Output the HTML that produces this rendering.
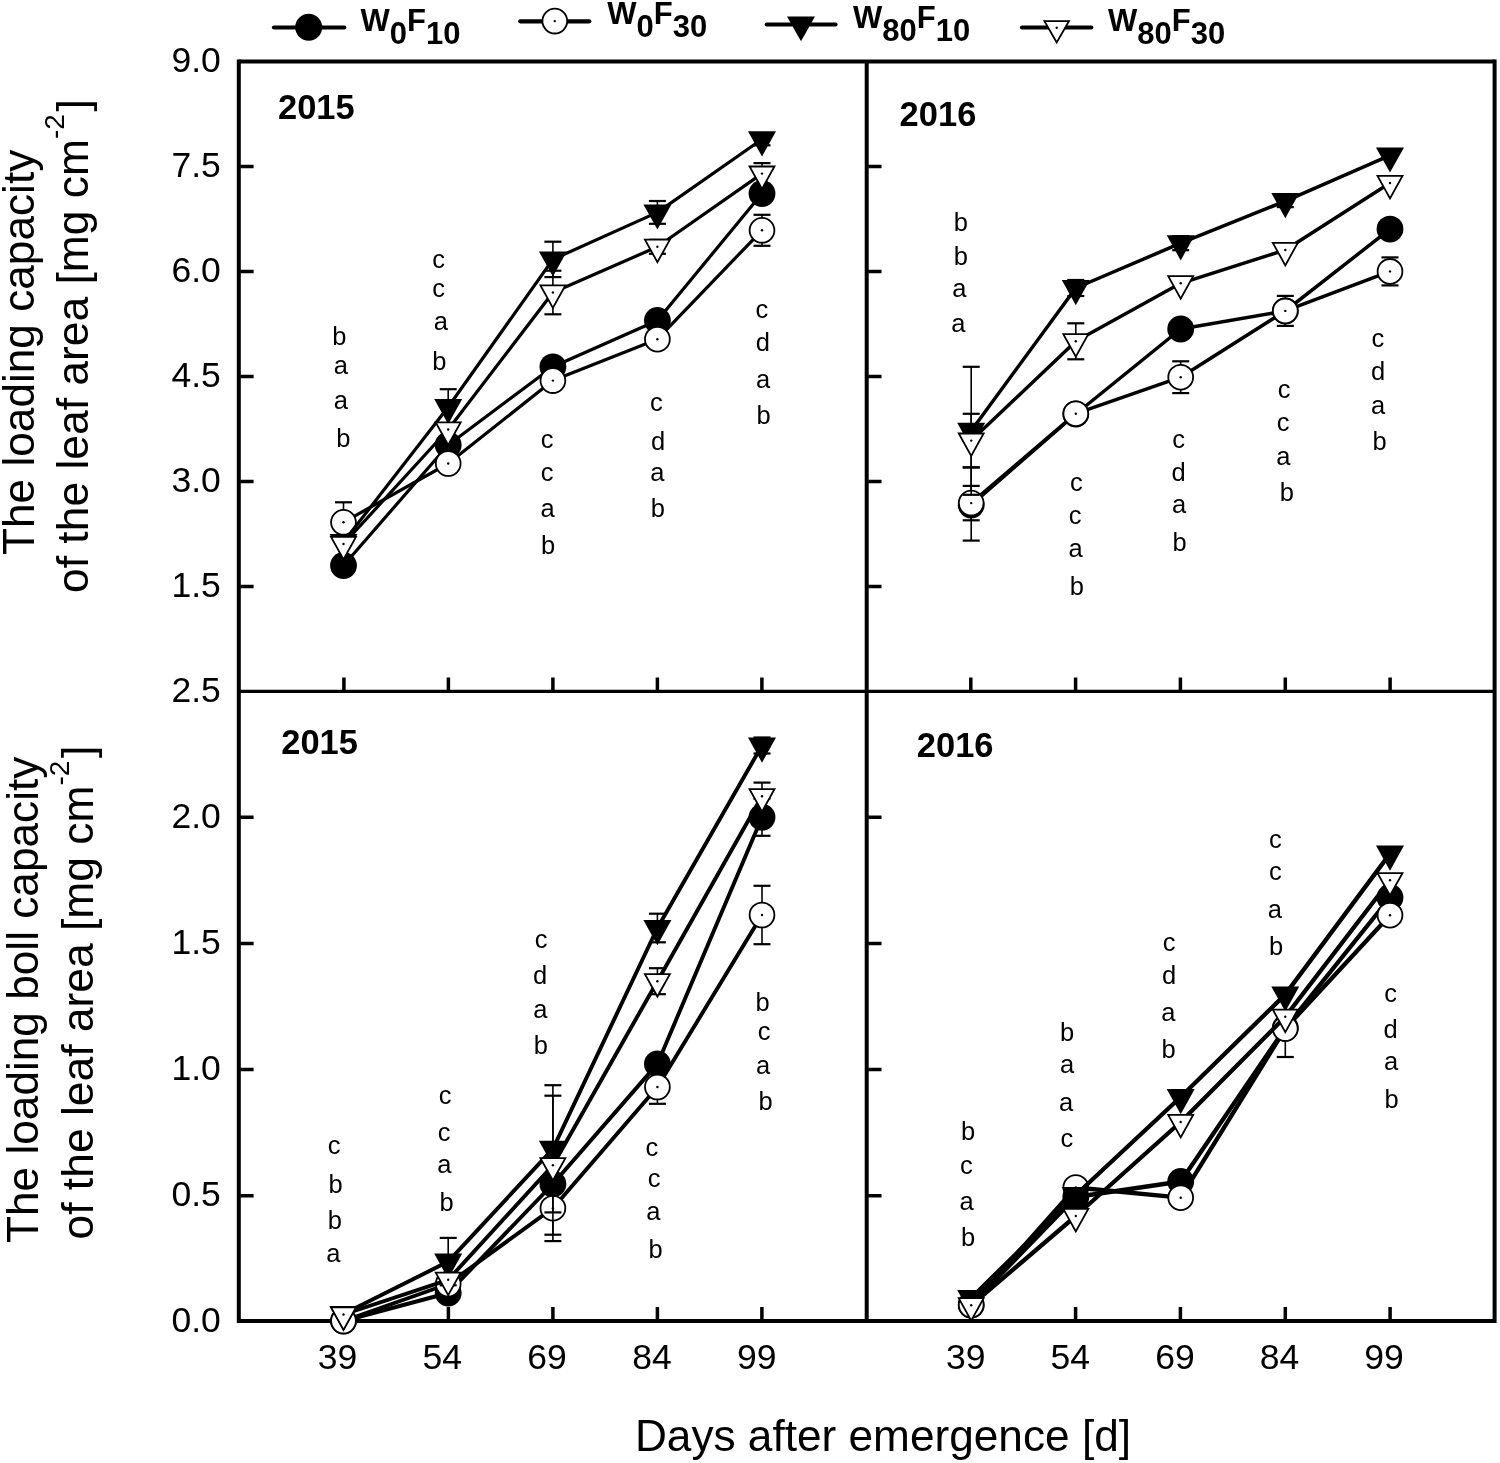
<!DOCTYPE html>
<html><head><meta charset="utf-8"><title>Loading capacity chart</title>
<style>html,body{margin:0;padding:0;background:#fff;}svg{display:block;will-change:transform;}text{font-family:"Liberation Sans",sans-serif;fill:#000;}</style></head><body>
<svg width="1500" height="1463" viewBox="0 0 1500 1463">
<rect x="0" y="0" width="1500" height="1463" fill="#fff"/>
<path d="M238.8,59.4V1322.9M866.7,61.4V1320.9M1494.6,59.4V1322.9" stroke="#000" stroke-width="4.0" fill="none"/>
<path d="M238.8,61.4H1494.6M238.8,1320.9H1494.6" stroke="#000" stroke-width="4.0" fill="none"/>
<path d="M238.8,691.3H1494.6" stroke="#000" stroke-width="3.3" fill="none"/>
<path d="M240.3,166.5h13.3M868.2,166.5h13.3M240.3,271.5h13.3M868.2,271.5h13.3M240.3,376.5h13.3M868.2,376.5h13.3M240.3,481.6h13.3M868.2,481.6h13.3M240.3,586.6h13.3M868.2,586.6h13.3M240.3,1195.7h13.3M868.2,1195.7h13.3M240.3,1069.6h13.3M868.2,1069.6h13.3M240.3,943.4h13.3M868.2,943.4h13.3M240.3,817.2h13.3M868.2,817.2h13.3M343.9,690.1v-12.5M343.9,1319.4v-12.5M448.4,690.1v-12.5M448.4,1319.4v-12.5M552.9,690.1v-12.5M552.9,1319.4v-12.5M657.4,690.1v-12.5M657.4,1319.4v-12.5M761.9,690.1v-12.5M761.9,1319.4v-12.5M970.8,690.1v-12.5M970.8,1319.4v-12.5M1075.6,690.1v-12.5M1075.6,1319.4v-12.5M1180.4,690.1v-12.5M1180.4,1319.4v-12.5M1285.3,690.1v-12.5M1285.3,1319.4v-12.5M1390.1,690.1v-12.5M1390.1,1319.4v-12.5" stroke="#000" stroke-width="3.5" fill="none"/>
<polyline fill="none" stroke="#000" stroke-width="3.2" stroke-linejoin="round" points="343.5,565.5 448.2,445.0 552.9,366.8 657.4,320.5 762.0,193.5"/><circle cx="343.5" cy="565.5" r="13.4" fill="#000"/><circle cx="448.2" cy="445.0" r="13.4" fill="#000"/><circle cx="552.9" cy="366.8" r="13.4" fill="#000"/><circle cx="657.4" cy="320.5" r="13.4" fill="#000"/><circle cx="762.0" cy="193.5" r="13.4" fill="#000"/>
<polyline fill="none" stroke="#000" stroke-width="3.2" stroke-linejoin="round" points="343.5,522.3 448.2,463.5 552.9,380.6 657.4,339.2 762.0,230.3"/><path d="M343.5,502.3V542.3" stroke="#000" stroke-width="1.6" fill="none"/><rect x="335.0" y="501.2" width="17.0" height="2.2" fill="#000"/><rect x="335.0" y="541.2" width="17.0" height="2.2" fill="#000"/><path d="M762.0,214.8V245.8" stroke="#000" stroke-width="1.6" fill="none"/><rect x="753.5" y="213.7" width="17.0" height="2.2" fill="#000"/><rect x="753.5" y="244.7" width="17.0" height="2.2" fill="#000"/><circle cx="343.5" cy="522.3" r="12.4" fill="#fff" stroke="#000" stroke-width="1.8"/><circle cx="343.5" cy="522.3" r="1.2" fill="#000"/><circle cx="448.2" cy="463.5" r="12.4" fill="#fff" stroke="#000" stroke-width="1.8"/><circle cx="448.2" cy="463.5" r="1.2" fill="#000"/><circle cx="552.9" cy="380.6" r="12.4" fill="#fff" stroke="#000" stroke-width="1.8"/><circle cx="552.9" cy="380.6" r="1.2" fill="#000"/><circle cx="657.4" cy="339.2" r="12.4" fill="#fff" stroke="#000" stroke-width="1.8"/><circle cx="657.4" cy="339.2" r="1.2" fill="#000"/><circle cx="762.0" cy="230.3" r="12.4" fill="#fff" stroke="#000" stroke-width="1.8"/><circle cx="762.0" cy="230.3" r="1.2" fill="#000"/>
<polyline fill="none" stroke="#000" stroke-width="3.2" stroke-linejoin="round" points="343.5,542.0 448.2,407.0 552.9,259.4 657.4,212.4 762.0,139.3"/><path d="M448.2,389.2V424.8" stroke="#000" stroke-width="1.6" fill="none"/><rect x="439.7" y="388.1" width="17.0" height="2.2" fill="#000"/><rect x="439.7" y="423.7" width="17.0" height="2.2" fill="#000"/><path d="M552.9,241.7V277.1" stroke="#000" stroke-width="1.6" fill="none"/><rect x="544.4" y="240.6" width="17.0" height="2.2" fill="#000"/><rect x="544.4" y="276.0" width="17.0" height="2.2" fill="#000"/><path d="M657.4,201.0V223.8" stroke="#000" stroke-width="1.6" fill="none"/><rect x="648.9" y="199.9" width="17.0" height="2.2" fill="#000"/><rect x="648.9" y="222.7" width="17.0" height="2.2" fill="#000"/><path d="M762.0,133.3V145.3" stroke="#000" stroke-width="1.6" fill="none"/><rect x="753.5" y="132.2" width="17.0" height="2.2" fill="#000"/><rect x="753.5" y="144.2" width="17.0" height="2.2" fill="#000"/><path d="M329.5,534.0L357.5,534.0L343.5,559.2Z" fill="#000"/><path d="M434.2,399.0L462.2,399.0L448.2,424.2Z" fill="#000"/><path d="M538.9,251.4L566.9,251.4L552.9,276.6Z" fill="#000"/><path d="M643.4,204.4L671.4,204.4L657.4,229.6Z" fill="#000"/><path d="M748.0,131.3L776.0,131.3L762.0,156.5Z" fill="#000"/>
<polyline fill="none" stroke="#000" stroke-width="3.2" stroke-linejoin="round" points="343.5,544.0 448.2,429.5 552.9,292.5 657.4,246.8 762.0,173.6"/><path d="M552.9,270.7V314.3" stroke="#000" stroke-width="1.6" fill="none"/><rect x="544.4" y="269.6" width="17.0" height="2.2" fill="#000"/><rect x="544.4" y="313.2" width="17.0" height="2.2" fill="#000"/><path d="M657.4,239.8V253.8" stroke="#000" stroke-width="1.6" fill="none"/><rect x="648.9" y="238.7" width="17.0" height="2.2" fill="#000"/><rect x="648.9" y="252.7" width="17.0" height="2.2" fill="#000"/><path d="M762.0,163.1V184.1" stroke="#000" stroke-width="1.6" fill="none"/><rect x="753.5" y="162.0" width="17.0" height="2.2" fill="#000"/><rect x="753.5" y="183.0" width="17.0" height="2.2" fill="#000"/><path d="M331.03,536.90L355.97,536.90L343.50,559.35Z" fill="#fff" stroke="#000" stroke-width="1.8" stroke-linejoin="miter" stroke-miterlimit="10"/><circle cx="343.5" cy="544.0" r="1.2" fill="#000"/><path d="M435.73,422.40L460.67,422.40L448.20,444.85Z" fill="#fff" stroke="#000" stroke-width="1.8" stroke-linejoin="miter" stroke-miterlimit="10"/><circle cx="448.2" cy="429.5" r="1.2" fill="#000"/><path d="M540.43,285.40L565.37,285.40L552.90,307.85Z" fill="#fff" stroke="#000" stroke-width="1.8" stroke-linejoin="miter" stroke-miterlimit="10"/><circle cx="552.9" cy="292.5" r="1.2" fill="#000"/><path d="M644.93,239.70L669.87,239.70L657.40,262.15Z" fill="#fff" stroke="#000" stroke-width="1.8" stroke-linejoin="miter" stroke-miterlimit="10"/><circle cx="657.4" cy="246.8" r="1.2" fill="#000"/><path d="M749.53,166.50L774.47,166.50L762.00,188.95Z" fill="#fff" stroke="#000" stroke-width="1.8" stroke-linejoin="miter" stroke-miterlimit="10"/><circle cx="762.0" cy="173.6" r="1.2" fill="#000"/>
<polyline fill="none" stroke="#000" stroke-width="3.5" stroke-linejoin="round" points="971.2,505.0 1075.8,414.0 1180.7,329.0 1285.3,311.0 1390.0,229.1"/><path d="M971.2,467.4V540.6" stroke="#000" stroke-width="1.6" fill="none"/><rect x="962.7" y="466.3" width="17.0" height="2.2" fill="#000"/><rect x="962.7" y="539.5" width="17.0" height="2.2" fill="#000"/><circle cx="971.2" cy="505.0" r="13.4" fill="#000"/><circle cx="1075.8" cy="414.0" r="13.4" fill="#000"/><circle cx="1180.7" cy="329.0" r="13.4" fill="#000"/><circle cx="1285.3" cy="311.0" r="13.4" fill="#000"/><circle cx="1390.0" cy="229.1" r="13.4" fill="#000"/>
<polyline fill="none" stroke="#000" stroke-width="3.5" stroke-linejoin="round" points="971.2,503.1 1075.8,413.7 1180.7,377.2 1285.3,310.9 1390.0,271.4"/><path d="M971.2,485.9V520.3" stroke="#000" stroke-width="1.6" fill="none"/><rect x="962.7" y="484.8" width="17.0" height="2.2" fill="#000"/><rect x="962.7" y="519.2" width="17.0" height="2.2" fill="#000"/><path d="M1180.7,361.3V393.1" stroke="#000" stroke-width="1.6" fill="none"/><rect x="1172.2" y="360.2" width="17.0" height="2.2" fill="#000"/><rect x="1172.2" y="392.0" width="17.0" height="2.2" fill="#000"/><path d="M1285.3,295.9V325.9" stroke="#000" stroke-width="1.6" fill="none"/><rect x="1276.8" y="294.8" width="17.0" height="2.2" fill="#000"/><rect x="1276.8" y="324.8" width="17.0" height="2.2" fill="#000"/><path d="M1390.0,257.4V285.4" stroke="#000" stroke-width="1.6" fill="none"/><rect x="1381.5" y="256.3" width="17.0" height="2.2" fill="#000"/><rect x="1381.5" y="284.3" width="17.0" height="2.2" fill="#000"/><circle cx="971.2" cy="503.1" r="12.4" fill="#fff" stroke="#000" stroke-width="1.8"/><circle cx="971.2" cy="503.1" r="1.2" fill="#000"/><circle cx="1075.8" cy="413.7" r="12.4" fill="#fff" stroke="#000" stroke-width="1.8"/><circle cx="1075.8" cy="413.7" r="1.2" fill="#000"/><circle cx="1180.7" cy="377.2" r="12.4" fill="#fff" stroke="#000" stroke-width="1.8"/><circle cx="1180.7" cy="377.2" r="1.2" fill="#000"/><circle cx="1285.3" cy="310.9" r="12.4" fill="#fff" stroke="#000" stroke-width="1.8"/><circle cx="1285.3" cy="310.9" r="1.2" fill="#000"/><circle cx="1390.0" cy="271.4" r="12.4" fill="#fff" stroke="#000" stroke-width="1.8"/><circle cx="1390.0" cy="271.4" r="1.2" fill="#000"/>
<polyline fill="none" stroke="#000" stroke-width="3.5" stroke-linejoin="round" points="971.2,430.8 1075.8,288.0 1180.7,243.2 1285.3,201.1 1390.0,155.4"/><path d="M971.2,366.8V494.8" stroke="#000" stroke-width="1.6" fill="none"/><rect x="962.7" y="365.7" width="17.0" height="2.2" fill="#000"/><rect x="962.7" y="493.7" width="17.0" height="2.2" fill="#000"/><path d="M1075.8,280.0V296.0" stroke="#000" stroke-width="1.6" fill="none"/><rect x="1067.3" y="278.9" width="17.0" height="2.2" fill="#000"/><rect x="1067.3" y="294.9" width="17.0" height="2.2" fill="#000"/><path d="M1180.7,236.2V250.2" stroke="#000" stroke-width="1.6" fill="none"/><rect x="1172.2" y="235.1" width="17.0" height="2.2" fill="#000"/><rect x="1172.2" y="249.1" width="17.0" height="2.2" fill="#000"/><path d="M1285.3,195.1V207.1" stroke="#000" stroke-width="1.6" fill="none"/><rect x="1276.8" y="194.0" width="17.0" height="2.2" fill="#000"/><rect x="1276.8" y="206.0" width="17.0" height="2.2" fill="#000"/><path d="M957.2,422.8L985.2,422.8L971.2,448.0Z" fill="#000"/><path d="M1061.8,280.0L1089.8,280.0L1075.8,305.2Z" fill="#000"/><path d="M1166.7,235.2L1194.7,235.2L1180.7,260.4Z" fill="#000"/><path d="M1271.3,193.1L1299.3,193.1L1285.3,218.3Z" fill="#000"/><path d="M1376.0,147.4L1404.0,147.4L1390.0,172.6Z" fill="#000"/>
<polyline fill="none" stroke="#000" stroke-width="3.5" stroke-linejoin="round" points="971.2,440.6 1075.8,341.3 1180.7,283.3 1285.3,250.0 1390.0,183.0"/><path d="M971.2,413.8V467.4" stroke="#000" stroke-width="1.6" fill="none"/><rect x="962.7" y="412.7" width="17.0" height="2.2" fill="#000"/><rect x="962.7" y="466.3" width="17.0" height="2.2" fill="#000"/><path d="M1075.8,323.3V359.3" stroke="#000" stroke-width="1.6" fill="none"/><rect x="1067.3" y="322.2" width="17.0" height="2.2" fill="#000"/><rect x="1067.3" y="358.2" width="17.0" height="2.2" fill="#000"/><path d="M958.73,433.50L983.67,433.50L971.20,455.95Z" fill="#fff" stroke="#000" stroke-width="1.8" stroke-linejoin="miter" stroke-miterlimit="10"/><circle cx="971.2" cy="440.6" r="1.2" fill="#000"/><path d="M1063.33,334.20L1088.27,334.20L1075.80,356.65Z" fill="#fff" stroke="#000" stroke-width="1.8" stroke-linejoin="miter" stroke-miterlimit="10"/><circle cx="1075.8" cy="341.3" r="1.2" fill="#000"/><path d="M1168.23,276.20L1193.17,276.20L1180.70,298.65Z" fill="#fff" stroke="#000" stroke-width="1.8" stroke-linejoin="miter" stroke-miterlimit="10"/><circle cx="1180.7" cy="283.3" r="1.2" fill="#000"/><path d="M1272.83,242.90L1297.77,242.90L1285.30,265.35Z" fill="#fff" stroke="#000" stroke-width="1.8" stroke-linejoin="miter" stroke-miterlimit="10"/><circle cx="1285.3" cy="250.0" r="1.2" fill="#000"/><path d="M1377.53,175.90L1402.47,175.90L1390.00,198.35Z" fill="#fff" stroke="#000" stroke-width="1.8" stroke-linejoin="miter" stroke-miterlimit="10"/><circle cx="1390.0" cy="183.0" r="1.2" fill="#000"/>
<polyline fill="none" stroke="#000" stroke-width="3.9" stroke-linejoin="round" points="343.5,1321.0 448.2,1293.0 552.9,1184.0 657.4,1063.9 762.0,817.2"/><path d="M762.0,798.6V835.8" stroke="#000" stroke-width="1.6" fill="none"/><rect x="753.5" y="797.5" width="17.0" height="2.2" fill="#000"/><rect x="753.5" y="834.7" width="17.0" height="2.2" fill="#000"/><circle cx="343.5" cy="1321.0" r="13.4" fill="#000"/><circle cx="448.2" cy="1293.0" r="13.4" fill="#000"/><circle cx="552.9" cy="1184.0" r="13.4" fill="#000"/><circle cx="657.4" cy="1063.9" r="13.4" fill="#000"/><circle cx="762.0" cy="817.2" r="13.4" fill="#000"/>
<polyline fill="none" stroke="#000" stroke-width="3.9" stroke-linejoin="round" points="343.5,1321.0 448.2,1284.0 552.9,1208.2 657.4,1087.0 762.0,915.0"/><path d="M552.9,1175.3V1241.1" stroke="#000" stroke-width="1.6" fill="none"/><rect x="544.4" y="1174.2" width="17.0" height="2.2" fill="#000"/><rect x="544.4" y="1240.0" width="17.0" height="2.2" fill="#000"/><path d="M657.4,1070.2V1103.8" stroke="#000" stroke-width="1.6" fill="none"/><rect x="648.9" y="1069.1" width="17.0" height="2.2" fill="#000"/><rect x="648.9" y="1102.7" width="17.0" height="2.2" fill="#000"/><path d="M762.0,885.8V944.2" stroke="#000" stroke-width="1.6" fill="none"/><rect x="753.5" y="884.7" width="17.0" height="2.2" fill="#000"/><rect x="753.5" y="943.1" width="17.0" height="2.2" fill="#000"/><circle cx="343.5" cy="1321.0" r="12.4" fill="#fff" stroke="#000" stroke-width="1.8"/><circle cx="343.5" cy="1321.0" r="1.2" fill="#000"/><circle cx="448.2" cy="1284.0" r="12.4" fill="#fff" stroke="#000" stroke-width="1.8"/><circle cx="448.2" cy="1284.0" r="1.2" fill="#000"/><circle cx="552.9" cy="1208.2" r="12.4" fill="#fff" stroke="#000" stroke-width="1.8"/><circle cx="552.9" cy="1208.2" r="1.2" fill="#000"/><circle cx="657.4" cy="1087.0" r="12.4" fill="#fff" stroke="#000" stroke-width="1.8"/><circle cx="657.4" cy="1087.0" r="1.2" fill="#000"/><circle cx="762.0" cy="915.0" r="12.4" fill="#fff" stroke="#000" stroke-width="1.8"/><circle cx="762.0" cy="915.0" r="1.2" fill="#000"/>
<polyline fill="none" stroke="#000" stroke-width="3.9" stroke-linejoin="round" points="343.5,1314.0 448.2,1261.6 552.9,1148.8 657.4,928.0 762.0,745.5"/><path d="M448.2,1237.9V1285.3" stroke="#000" stroke-width="1.6" fill="none"/><rect x="439.7" y="1236.8" width="17.0" height="2.2" fill="#000"/><rect x="439.7" y="1284.2" width="17.0" height="2.2" fill="#000"/><path d="M552.9,1085.2V1212.4" stroke="#000" stroke-width="1.6" fill="none"/><rect x="544.4" y="1084.1" width="17.0" height="2.2" fill="#000"/><rect x="544.4" y="1211.3" width="17.0" height="2.2" fill="#000"/><path d="M657.4,913.7V942.3" stroke="#000" stroke-width="1.6" fill="none"/><rect x="648.9" y="912.6" width="17.0" height="2.2" fill="#000"/><rect x="648.9" y="941.2" width="17.0" height="2.2" fill="#000"/><path d="M762.0,737.5V753.5" stroke="#000" stroke-width="1.6" fill="none"/><rect x="753.5" y="736.4" width="17.0" height="2.2" fill="#000"/><rect x="753.5" y="752.4" width="17.0" height="2.2" fill="#000"/><path d="M329.5,1306.0L357.5,1306.0L343.5,1331.2Z" fill="#000"/><path d="M434.2,1253.6L462.2,1253.6L448.2,1278.8Z" fill="#000"/><path d="M538.9,1140.8L566.9,1140.8L552.9,1166.0Z" fill="#000"/><path d="M643.4,920.0L671.4,920.0L657.4,945.2Z" fill="#000"/><path d="M748.0,737.5L776.0,737.5L762.0,762.7Z" fill="#000"/>
<polyline fill="none" stroke="#000" stroke-width="3.9" stroke-linejoin="round" points="343.5,1314.5 448.2,1279.8 552.9,1165.2 657.4,981.2 762.0,796.3"/><path d="M552.9,1095.7V1234.7" stroke="#000" stroke-width="1.6" fill="none"/><rect x="544.4" y="1094.6" width="17.0" height="2.2" fill="#000"/><rect x="544.4" y="1233.6" width="17.0" height="2.2" fill="#000"/><path d="M657.4,968.2V994.2" stroke="#000" stroke-width="1.6" fill="none"/><rect x="648.9" y="967.1" width="17.0" height="2.2" fill="#000"/><rect x="648.9" y="993.1" width="17.0" height="2.2" fill="#000"/><path d="M762.0,782.6V810.0" stroke="#000" stroke-width="1.6" fill="none"/><rect x="753.5" y="781.5" width="17.0" height="2.2" fill="#000"/><rect x="753.5" y="808.9" width="17.0" height="2.2" fill="#000"/><path d="M331.03,1307.40L355.97,1307.40L343.50,1329.85Z" fill="#fff" stroke="#000" stroke-width="1.8" stroke-linejoin="miter" stroke-miterlimit="10"/><circle cx="343.5" cy="1314.5" r="1.2" fill="#000"/><path d="M435.73,1272.70L460.67,1272.70L448.20,1295.15Z" fill="#fff" stroke="#000" stroke-width="1.8" stroke-linejoin="miter" stroke-miterlimit="10"/><circle cx="448.2" cy="1279.8" r="1.2" fill="#000"/><path d="M540.43,1158.10L565.37,1158.10L552.90,1180.55Z" fill="#fff" stroke="#000" stroke-width="1.8" stroke-linejoin="miter" stroke-miterlimit="10"/><circle cx="552.9" cy="1165.2" r="1.2" fill="#000"/><path d="M644.93,974.10L669.87,974.10L657.40,996.55Z" fill="#fff" stroke="#000" stroke-width="1.8" stroke-linejoin="miter" stroke-miterlimit="10"/><circle cx="657.4" cy="981.2" r="1.2" fill="#000"/><path d="M749.53,789.20L774.47,789.20L762.00,811.65Z" fill="#fff" stroke="#000" stroke-width="1.8" stroke-linejoin="miter" stroke-miterlimit="10"/><circle cx="762.0" cy="796.3" r="1.2" fill="#000"/>
<polyline fill="none" stroke="#000" stroke-width="4.3" stroke-linejoin="round" points="971.2,1305.0 1075.8,1197.0 1180.7,1181.5 1285.3,1028.0 1390.0,897.5"/><circle cx="971.2" cy="1305.0" r="13.4" fill="#000"/><circle cx="1075.8" cy="1197.0" r="13.4" fill="#000"/><circle cx="1180.7" cy="1181.5" r="13.4" fill="#000"/><circle cx="1285.3" cy="1028.0" r="13.4" fill="#000"/><circle cx="1390.0" cy="897.5" r="13.4" fill="#000"/>
<polyline fill="none" stroke="#000" stroke-width="4.3" stroke-linejoin="round" points="971.2,1305.0 1075.8,1187.5 1180.7,1197.7 1285.3,1028.6 1390.0,915.2"/><path d="M1285.3,1028.6V1057.0" stroke="#000" stroke-width="1.6" fill="none"/><rect x="1276.8" y="1055.9" width="17.0" height="2.2" fill="#000"/><circle cx="971.2" cy="1305.0" r="12.4" fill="#fff" stroke="#000" stroke-width="1.8"/><circle cx="971.2" cy="1305.0" r="1.2" fill="#000"/><circle cx="1075.8" cy="1187.5" r="12.4" fill="#fff" stroke="#000" stroke-width="1.8"/><circle cx="1075.8" cy="1187.5" r="1.2" fill="#000"/><circle cx="1180.7" cy="1197.7" r="12.4" fill="#fff" stroke="#000" stroke-width="1.8"/><circle cx="1180.7" cy="1197.7" r="1.2" fill="#000"/><circle cx="1285.3" cy="1028.6" r="12.4" fill="#fff" stroke="#000" stroke-width="1.8"/><circle cx="1285.3" cy="1028.6" r="1.2" fill="#000"/><circle cx="1390.0" cy="915.2" r="12.4" fill="#fff" stroke="#000" stroke-width="1.8"/><circle cx="1390.0" cy="915.2" r="1.2" fill="#000"/>
<polyline fill="none" stroke="#000" stroke-width="4.3" stroke-linejoin="round" points="971.2,1298.0 1075.8,1195.0 1180.7,1097.0 1285.3,994.4 1390.0,853.6"/><path d="M957.2,1290.0L985.2,1290.0L971.2,1315.2Z" fill="#000"/><path d="M1061.8,1187.0L1089.8,1187.0L1075.8,1212.2Z" fill="#000"/><path d="M1166.7,1089.0L1194.7,1089.0L1180.7,1114.2Z" fill="#000"/><path d="M1271.3,986.4L1299.3,986.4L1285.3,1011.6Z" fill="#000"/><path d="M1376.0,845.6L1404.0,845.6L1390.0,870.8Z" fill="#000"/>
<polyline fill="none" stroke="#000" stroke-width="4.3" stroke-linejoin="round" points="971.2,1305.3 1075.8,1216.0 1180.7,1122.0 1285.3,1016.8 1390.0,880.2"/><path d="M958.73,1298.20L983.67,1298.20L971.20,1320.65Z" fill="#fff" stroke="#000" stroke-width="1.8" stroke-linejoin="miter" stroke-miterlimit="10"/><circle cx="971.2" cy="1305.3" r="1.2" fill="#000"/><path d="M1063.33,1208.90L1088.27,1208.90L1075.80,1231.35Z" fill="#fff" stroke="#000" stroke-width="1.8" stroke-linejoin="miter" stroke-miterlimit="10"/><circle cx="1075.8" cy="1216.0" r="1.2" fill="#000"/><path d="M1168.23,1114.90L1193.17,1114.90L1180.70,1137.35Z" fill="#fff" stroke="#000" stroke-width="1.8" stroke-linejoin="miter" stroke-miterlimit="10"/><circle cx="1180.7" cy="1122.0" r="1.2" fill="#000"/><path d="M1272.83,1009.70L1297.77,1009.70L1285.30,1032.15Z" fill="#fff" stroke="#000" stroke-width="1.8" stroke-linejoin="miter" stroke-miterlimit="10"/><circle cx="1285.3" cy="1016.8" r="1.2" fill="#000"/><path d="M1377.53,873.10L1402.47,873.10L1390.00,895.55Z" fill="#fff" stroke="#000" stroke-width="1.8" stroke-linejoin="miter" stroke-miterlimit="10"/><circle cx="1390.0" cy="880.2" r="1.2" fill="#000"/>
<g font-size="25.5" text-anchor="middle">
<text x="339.3" y="345.4">b</text>
<text x="340.8" y="374.4">a</text>
<text x="340.8" y="408.6">a</text>
<text x="343.3" y="446.9">b</text>
<text x="438.7" y="267.5">c</text>
<text x="438.7" y="297.0">c</text>
<text x="440.9" y="330.0">a</text>
<text x="439.3" y="370.0">b</text>
<text x="547.1" y="447.5">c</text>
<text x="547.1" y="480.5">c</text>
<text x="547.5" y="516.8">a</text>
<text x="548.0" y="554.0">b</text>
<text x="656.3" y="411.0">c</text>
<text x="658.0" y="450.0">d</text>
<text x="657.4" y="480.5">a</text>
<text x="657.8" y="517.0">b</text>
<text x="761.8" y="317.5">c</text>
<text x="762.8" y="350.5">d</text>
<text x="763.0" y="388.0">a</text>
<text x="763.6" y="424.0">b</text>
<text x="960.8" y="231.0">b</text>
<text x="960.9" y="265.3">b</text>
<text x="959.3" y="297.3">a</text>
<text x="958.4" y="331.6">a</text>
<text x="1076.3" y="491.0">c</text>
<text x="1075.1" y="524.2">c</text>
<text x="1075.5" y="557.3">a</text>
<text x="1076.8" y="594.5">b</text>
<text x="1178.7" y="447.5">c</text>
<text x="1178.7" y="480.7">d</text>
<text x="1179.1" y="513.3">a</text>
<text x="1179.7" y="551.0">b</text>
<text x="1284.0" y="398.2">c</text>
<text x="1283.0" y="431.1">c</text>
<text x="1283.4" y="464.6">a</text>
<text x="1286.8" y="500.7">b</text>
<text x="1377.9" y="347.2">c</text>
<text x="1378.0" y="380.3">d</text>
<text x="1378.2" y="414.2">a</text>
<text x="1379.6" y="450.2">b</text>
<text x="334.0" y="1154.2">c</text>
<text x="335.7" y="1192.7">b</text>
<text x="334.8" y="1229.3">b</text>
<text x="333.4" y="1262.3">a</text>
<text x="445.0" y="1104.0">c</text>
<text x="444.0" y="1140.5">c</text>
<text x="444.3" y="1173.3">a</text>
<text x="446.7" y="1210.7">b</text>
<text x="541.1" y="947.5">c</text>
<text x="540.1" y="983.7">d</text>
<text x="540.4" y="1017.8">a</text>
<text x="540.8" y="1054.2">b</text>
<text x="651.9" y="1156.3">c</text>
<text x="654.0" y="1187.4">c</text>
<text x="653.3" y="1220.4">a</text>
<text x="655.7" y="1257.8">b</text>
<text x="762.6" y="1010.6">b</text>
<text x="764.0" y="1040.2">c</text>
<text x="763.2" y="1074.4">a</text>
<text x="765.5" y="1110.4">b</text>
<text x="968.0" y="1139.5">b</text>
<text x="966.3" y="1173.6">c</text>
<text x="966.5" y="1210.0">a</text>
<text x="968.0" y="1246.2">b</text>
<text x="1067.2" y="1040.6">b</text>
<text x="1067.0" y="1073.3">a</text>
<text x="1066.1" y="1110.7">a</text>
<text x="1066.8" y="1147.0">c</text>
<text x="1169.0" y="950.8">c</text>
<text x="1169.0" y="983.7">d</text>
<text x="1168.3" y="1021.3">a</text>
<text x="1168.5" y="1057.6">b</text>
<text x="1275.4" y="847.5">c</text>
<text x="1275.4" y="880.2">c</text>
<text x="1274.9" y="917.5">a</text>
<text x="1276.1" y="955.2">b</text>
<text x="1390.6" y="1002.0">c</text>
<text x="1390.6" y="1037.5">d</text>
<text x="1391.0" y="1070.2">a</text>
<text x="1391.6" y="1107.8">b</text>
</g>
<g font-size="35.5" text-anchor="end">
<text x="220.8" y="71.9">9.0</text>
<text x="220.8" y="177.0">7.5</text>
<text x="220.8" y="282.0">6.0</text>
<text x="220.8" y="387.0">4.5</text>
<text x="220.8" y="492.1">3.0</text>
<text x="220.8" y="597.1">1.5</text>
<text x="220.8" y="701.6">2.5</text>
<text x="220.8" y="827.7">2.0</text>
<text x="220.8" y="953.9">1.5</text>
<text x="220.8" y="1080.1">1.0</text>
<text x="220.8" y="1206.2">0.5</text>
<text x="220.8" y="1332.4">0.0</text>
</g>
<g font-size="35.5" text-anchor="middle">
<text x="337.4" y="1369.1">39</text>
<text x="442.2" y="1369.1">54</text>
<text x="547.1" y="1369.1">69</text>
<text x="652.0" y="1369.1">84</text>
<text x="756.8" y="1369.1">99</text>
<text x="965.7" y="1369.1">39</text>
<text x="1070.3" y="1369.1">54</text>
<text x="1174.9" y="1369.1">69</text>
<text x="1279.5" y="1369.1">84</text>
<text x="1384.1" y="1369.1">99</text>
</g>
<text x="634.9" y="1450.8" font-size="44.2">Days after emergence [d]</text>
<text transform="translate(34.0,555.0) rotate(-90)" font-size="44.2">The loading capacity</text>
<text transform="translate(88.4,593.0) rotate(-90)" font-size="44.4">of the leaf area [mg cm<tspan font-size="28" dy="-24">-2</tspan><tspan dy="24" dx="2.5">]</tspan></text>
<text transform="translate(38.1,1243.0) rotate(-90)" font-size="44.2">The loading boll capacity</text>
<text transform="translate(92.7,1239.5) rotate(-90)" font-size="44.4">of the leaf area [mg cm<tspan font-size="28" dy="-24">-2</tspan><tspan dy="24" dx="2.5">]</tspan></text>
<g font-size="34.5" font-weight="bold">
<text transform="translate(278,119.3) scale(1,1.035)">2015</text>
<text transform="translate(899.6,125.5) scale(1,1.035)">2016</text>
<text transform="translate(281.2,754) scale(1,1.035)">2015</text>
<text transform="translate(916.8,756.6) scale(1,1.035)">2016</text>
</g>
<path d="M274,27.5H344.3" stroke="#000" stroke-width="4.2" stroke-linecap="round"/>
<circle cx="308.7" cy="27.3" r="13.5" fill="#000"/>
<text x="360.5" y="30.8" font-size="31" font-weight="bold">W<tspan dy="13.2">0</tspan><tspan dy="-13.2">F</tspan><tspan dy="13.2">10</tspan></text>
<path d="M520.3,21.3H589.3" stroke="#000" stroke-width="4.2" stroke-linecap="round"/>
<circle cx="554.8" cy="21.1" r="12.4" fill="#fff" stroke="#000" stroke-width="1.8"/><circle cx="554.8" cy="21.1" r="1.2" fill="#000"/>
<text x="607.2" y="24.2" font-size="31" font-weight="bold">W<tspan dy="13.2">0</tspan><tspan dy="-13.2">F</tspan><tspan dy="13.2">30</tspan></text>
<path d="M766.7,24.5H835.5" stroke="#000" stroke-width="4.2" stroke-linecap="round"/>
<path d="M787,16.6L815,16.6L801,41.3Z" fill="#000"/>
<text x="853.0" y="27.5" font-size="31" font-weight="bold">W<tspan dy="13.2">80</tspan><tspan dy="-13.2">F</tspan><tspan dy="13.2">10</tspan></text>
<path d="M1022,27.5H1091.3" stroke="#000" stroke-width="4.2" stroke-linecap="round"/>
<path d="M1044.46,21.10L1068.94,21.10L1056.7,42.39Z" fill="#fff" stroke="#000" stroke-width="1.8" stroke-miterlimit="10"/><circle cx="1056.7" cy="27.8" r="1.2" fill="#000"/>
<text x="1108.0" y="30.8" font-size="31" font-weight="bold">W<tspan dy="13.2">80</tspan><tspan dy="-13.2">F</tspan><tspan dy="13.2">30</tspan></text>
</svg></body></html>
